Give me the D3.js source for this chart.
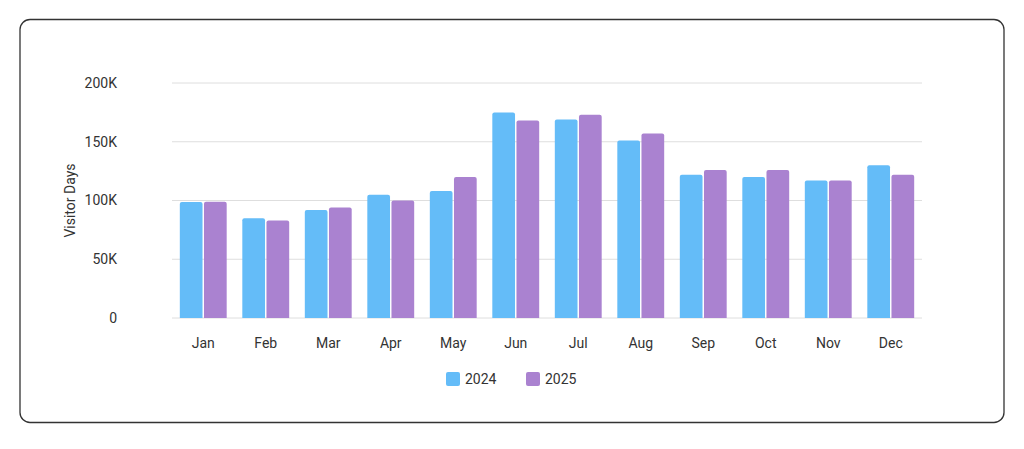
<!DOCTYPE html>
<html><head><meta charset="utf-8">
<script src="https://cdn.jsdelivr.net/npm/d3@7"></script>
<style>body{margin:0;background:#fff;font-family:Roboto,"Liberation Sans",Arial,sans-serif}</style>
</head><body><div id="chart"></div>
<script>
// data
const months = ["Jan","Feb","Mar","Apr","May","Jun","Jul","Aug","Sep","Oct","Nov","Dec"];
const years = ["2024","2025"];
const v2024 = [98700,85000,92000,105000,108000,175000,169000,151000,122000,120000,117000,130000];
const v2025 = [99000,83000,94000,100000,120000,168000,173000,157000,126000,126000,117000,122000];
const yTicks = [0,50000,100000,150000,200000];
const colors = ["#64bcf8","#aa82d0"];

var W = 1024, H = 449;
var margin = {top: 83, left: 172, right: 102, bottom: 131};
var width = W - margin.left - margin.right,
    height = H - margin.top - margin.bottom;

var svg = d3.select("#chart").append("svg").attr("width", W).attr("height", H);

// card border
svg.append("rect").attr("x", 20).attr("y", 19.5).attr("width", 984).attr("height", 403)
  .attr("rx", 10).attr("fill", "none").attr("stroke", "#333").attr("stroke-width", 1.3);

var g = svg.append("g").attr("transform", "translate(" + margin.left + "," + margin.top + ")");

var x = d3.scaleBand().domain(months).range([0, width]).paddingInner(0.25).paddingOuter(0.125);
var x1 = d3.scaleBand().domain(years).range([0, x.bandwidth()]).paddingInner(0.06);
var y = d3.scaleLinear().domain([0, 200000]).range([height, 0]);

// grid
g.selectAll(".grid").data(yTicks).enter().append("line")
  .attr("x1", 0).attr("x2", width)
  .attr("y1", d => y(d)).attr("y2", d => y(d))
  .attr("stroke", "#dedede");

g.selectAll(".ytick").data(yTicks).enter().append("text")
  .attr("x", -55).attr("y", d => y(d)).attr("dy", "0.35em")
  .attr("text-anchor", "end").attr("font-size", 14).attr("fill", "#333")
  .text(d => d === 0 ? "0" : (d / 1000) + "K");

g.append("text").attr("transform", "translate(-97," + (height / 2) + ") rotate(-90)")
  .attr("text-anchor", "middle").attr("font-size", 14).attr("fill", "#333").text("Visitor Days");

var series = [v2024, v2025];
series.forEach(function(vals, si) {
  g.selectAll(".bar" + si).data(vals).enter().append("path")
    .attr("fill", colors[si])
    .attr("d", function(d, i) {
      var bx = x(months[i]) + x1(years[si]), bw = x1.bandwidth(), by = y(d), r = 2;
      return "M" + bx + "," + height + "V" + (by + r) + "Q" + bx + "," + by + " " + (bx + r) + "," + by +
        "H" + (bx + bw - r) + "Q" + (bx + bw) + "," + by + " " + (bx + bw) + "," + (by + r) + "V" + height + "Z";
    });
});

g.selectAll(".xtick").data(months).enter().append("text")
  .attr("x", d => x(d) + x.bandwidth() / 2).attr("y", height + 30)
  .attr("text-anchor", "middle").attr("font-size", 14).attr("fill", "#333").text(d => d);

// legend
var lg = svg.append("g").attr("transform", "translate(446,372)");
years.forEach(function(yr, i) {
  var e = lg.append("g").attr("transform", "translate(" + (i * 80) + ",0)");
  e.append("rect").attr("width", 14).attr("height", 14).attr("rx", 2).attr("fill", colors[i]);
  e.append("text").attr("x", 19).attr("y", 7).attr("dy", "0.35em").attr("font-size", 14).attr("fill", "#333").text(yr);
});
</script></body></html>
